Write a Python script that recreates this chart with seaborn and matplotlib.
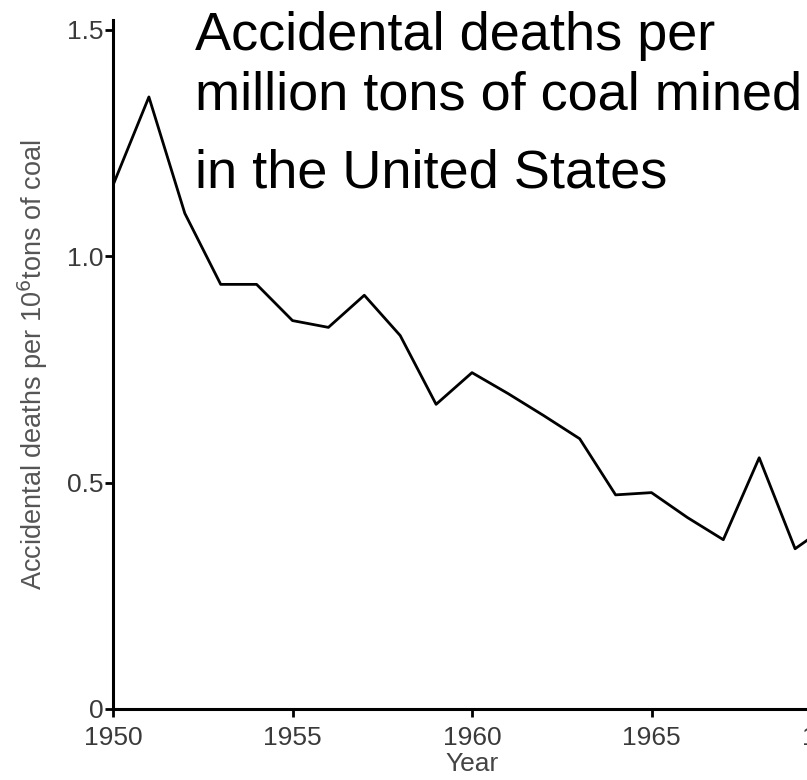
"""Coal mining accident rate, United States 1950-1970"""

import pandas as pd
import numpy as np
import matplotlib
matplotlib.use('Agg')
import matplotlib.pyplot as plt
import seaborn as sns

# data
years = [1950, 1951, 1952, 1953, 1954, 1955, 1956, 1957, 1958, 1959,
         1960, 1961, 1962, 1963, 1964, 1965, 1966, 1967, 1968, 1969, 1970]
deaths_per_mt = [1.157, 1.352, 1.095, 0.938, 0.938, 0.858, 0.843, 0.914, 0.825, 0.673,
                 0.743, 0.697, 0.648, 0.597, 0.473, 0.478, 0.423, 0.374, 0.555, 0.354, 0.41]
x_ticks = [1950, 1955, 1960, 1965, 1970]
y_ticks = [0, 0.5, 1.0, 1.5]
y_tick_labels = ['0', '0.5', '1.0', '1.5']
title_lines = ['Accidental deaths per', 'million tons of coal mined', 'in the United States']

df = pd.DataFrame({'year': years, 'rate': deaths_per_mt})

sns.set_style('ticks')
plt.rcParams['font.family'] = ['Liberation Sans', 'DejaVu Sans']

W, H = 807, 780
fig = plt.figure(figsize=(W / 100, H / 100), dpi=100)
# axes runs past the right edge, like the cropped scan
ax = fig.add_axes([113 / W, 1 - 709 / H, 718 / W, 689 / H])

sns.lineplot(data=df, x='year', y='rate', color='black', linewidth=2, ax=ax)

ax.set_xlim(1950, 1970)
ax.set_ylim(0, 1.522)
ax.set_xticks(x_ticks)
ax.set_yticks(y_ticks)
ax.set_yticklabels(y_tick_labels)

gray = '#3a3a3a'
ax.tick_params(axis='both', colors='black', labelcolor=gray, labelsize=19,
               length=6, width=2, direction='out')
ax.tick_params(axis='y', pad=1)
ax.tick_params(axis='x', pad=6)
for s in ['top', 'right']:
    ax.spines[s].set_visible(False)
for s in ['left', 'bottom']:
    ax.spines[s].set_linewidth(2.2)
    ax.spines[s].set_color('black')

ax.set_xlabel('Year', fontsize=19, color='#444444', labelpad=2)
ax.set_ylabel('Accidental deaths per 10$^6$tons of coal', fontsize=19.5, color='#555555', labelpad=12)

baselines = [50, 110, 187]
for line, b in zip(title_lines, baselines):
    fig.text(195 / W, 1 - b / H, line, fontsize=39, color='black', va='baseline', ha='left')

fig.savefig('out.png', dpi=100)
